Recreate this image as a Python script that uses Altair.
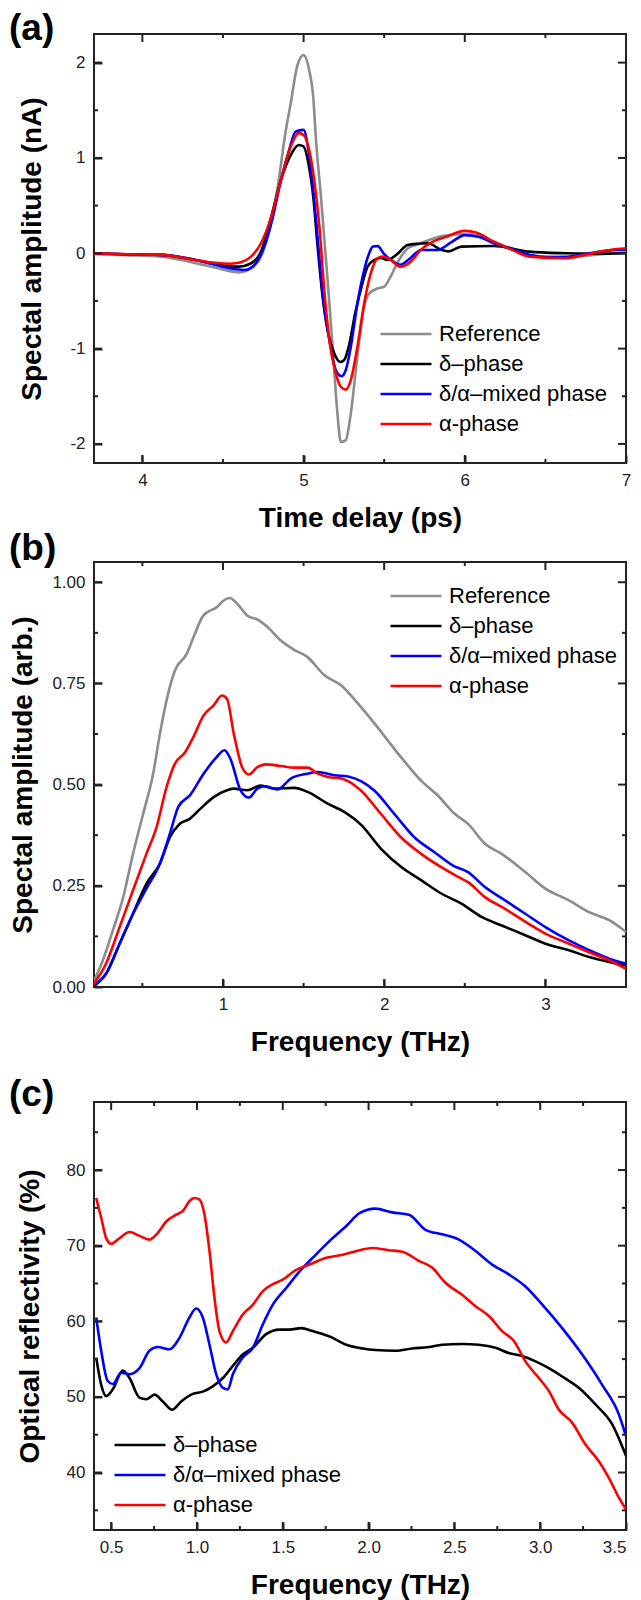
import altair as alt
import pandas as pd

FONT = "Liberation Sans"

# ---------------- Panel (a): time-domain waveforms ----------------
A_REF_T = [3.70, 3.90, 4.12, 4.33, 4.45, 4.55, 4.60, 4.674, 4.736, 4.788, 4.84, 4.89, 4.92, 4.96, 5.00, 5.035, 5.06, 5.077,
           5.108, 5.149, 5.18, 5.21, 5.231, 5.262, 5.293, 5.334, 5.376, 5.407, 5.458, 5.50, 5.54, 5.58, 5.645, 5.70, 5.78,
           5.86, 5.98, 6.07, 6.18, 6.30, 6.40, 6.55, 6.70, 6.85, 7.0]
A_REF_V = [-0.01, -0.02, -0.035, -0.105, -0.15, -0.19, -0.20, -0.16, -0.035, 0.245, 0.70, 1.29, 1.57, 1.96, 2.08, 1.92, 1.64,
           1.19, 0.59, -0.28, -0.98, -1.68, -1.98, -1.96, -1.68, -1.08, -0.56, -0.42, -0.37, -0.35, -0.245, -0.105, 0.05,
           0.09, 0.14, 0.18, 0.20, 0.19, 0.12, 0.04, -0.03, -0.04, -0.03, -0.01, 0.01]

A_D_T = [3.70, 3.90, 4.12, 4.33, 4.45, 4.55, 4.60, 4.67, 4.736, 4.80, 4.86, 4.92, 4.97, 5.00, 5.03, 5.06, 5.087, 5.118,
         5.149, 5.19, 5.227, 5.252, 5.28, 5.32, 5.365, 5.397, 5.44, 5.48, 5.52, 5.58, 5.645, 5.71, 5.77, 5.856, 5.90,
         5.98, 6.18, 6.40, 6.62, 6.80, 7.0]
A_D_V = [0.0, -0.01, -0.017, -0.07, -0.11, -0.14, -0.14, -0.11, 0.017, 0.385, 0.77, 1.03, 1.136, 1.12, 0.944, 0.594, 0.07,
         -0.455, -0.81, -1.05, -1.14, -1.12, -0.98, -0.63, -0.315, -0.14, -0.07, -0.05, -0.07, -0.01, 0.087, 0.10, 0.105,
         0.035, 0.02, 0.07, 0.077, 0.017, 0.0, -0.005, 0.0]

A_M_T = [3.70, 3.90, 4.12, 4.33, 4.45, 4.55, 4.63, 4.69, 4.756, 4.81, 4.86, 4.91, 4.95, 5.00, 5.03, 5.06, 5.09, 5.118,
         5.16, 5.20, 5.235, 5.262, 5.293, 5.334, 5.376, 5.407, 5.43, 5.46, 5.50, 5.56, 5.60, 5.65, 5.73, 5.83, 5.92, 6.0,
         6.09, 6.18, 6.30, 6.40, 6.51, 6.62, 6.77, 6.9, 7.0]
A_M_V = [0.0, -0.01, -0.017, -0.07, -0.12, -0.16, -0.175, -0.13, 0.07, 0.385, 0.77, 1.08, 1.276, 1.294, 1.08, 0.664, 0.105,
         -0.42, -0.91, -1.225, -1.29, -1.225, -0.98, -0.525, -0.175, 0.0, 0.07, 0.075, -0.01, -0.09, -0.12, -0.07, 0.035,
         0.035, 0.12, 0.19, 0.17, 0.105, 0.04, -0.017, -0.04, -0.04, 0.0, 0.03, 0.04]

A_A_T = [3.70, 3.90, 4.12, 4.33, 4.45, 4.55, 4.61, 4.674, 4.736, 4.80, 4.86, 4.92, 4.97, 5.00, 5.035, 5.066, 5.10, 5.128,
         5.16, 5.20, 5.231, 5.262, 5.293, 5.334, 5.376, 5.417, 5.458, 5.49, 5.54, 5.60, 5.665, 5.727, 5.80, 5.88, 6.0,
         6.07, 6.18, 6.30, 6.40, 6.62, 6.77, 6.9, 7.0]
A_A_V = [0.0, -0.01, -0.017, -0.07, -0.10, -0.11, -0.095, -0.035, 0.105, 0.385, 0.77, 1.12, 1.26, 1.24, 1.08, 0.77, 0.245,
         -0.385, -0.91, -1.26, -1.40, -1.43, -1.33, -0.98, -0.525, -0.21, -0.053, -0.035, -0.07, -0.14, -0.088, 0.035,
         0.12, 0.17, 0.235, 0.217, 0.122, 0.03, -0.035, -0.052, -0.007, 0.035, 0.052]

# ---------------- Panel (b): spectral amplitude ----------------
B_REF_F = [0.192, 0.255, 0.317, 0.38, 0.442, 0.505, 0.567, 0.609, 0.65, 0.702, 0.775, 0.817, 0.879, 0.963, 1.004, 1.042,
           1.088, 1.15, 1.223, 1.275, 1.359, 1.442, 1.525, 1.63, 1.734, 1.838, 1.942, 2.104, 2.229, 2.333, 2.437, 2.52,
           2.625, 2.729, 2.875, 3.0, 3.146, 3.271, 3.396, 3.5]
B_REF_A = [0.008, 0.066, 0.14, 0.22, 0.329, 0.428, 0.527, 0.626, 0.708, 0.782, 0.823, 0.864, 0.918, 0.939, 0.955, 0.961,
           0.947, 0.918, 0.906, 0.89, 0.856, 0.833, 0.815, 0.77, 0.745, 0.70, 0.65, 0.568, 0.51, 0.473, 0.428, 0.403,
           0.354, 0.329, 0.284, 0.243, 0.214, 0.185, 0.165, 0.136]

B_D_F = [0.192, 0.275, 0.359, 0.442, 0.525, 0.609, 0.671, 0.734, 0.796, 0.859, 0.942, 1.025, 1.067, 1.15, 1.234, 1.317,
         1.442, 1.525, 1.65, 1.755, 1.859, 1.979, 2.104, 2.229, 2.354, 2.479, 2.604, 2.729, 2.875, 3.0, 3.146, 3.271,
         3.396, 3.5]
B_D_A = [0.0, 0.033, 0.107, 0.181, 0.255, 0.305, 0.37, 0.404, 0.416, 0.44, 0.469, 0.486, 0.49, 0.486, 0.498, 0.49, 0.492,
         0.482, 0.453, 0.432, 0.40, 0.342, 0.297, 0.264, 0.231, 0.206, 0.173, 0.152, 0.128, 0.107, 0.091, 0.074, 0.062,
         0.054]

B_M_F = [0.192, 0.275, 0.359, 0.442, 0.525, 0.609, 0.671, 0.723, 0.796, 0.88, 0.952, 1.009, 1.046, 1.109, 1.161, 1.213,
         1.265, 1.338, 1.421, 1.525, 1.588, 1.692, 1.775, 1.859, 1.937, 2.062, 2.187, 2.312, 2.427, 2.52, 2.625, 2.75,
         2.875, 3.0, 3.146, 3.271, 3.396, 3.5]
B_M_A = [0.004, 0.033, 0.107, 0.181, 0.243, 0.305, 0.379, 0.445, 0.474, 0.527, 0.564, 0.585, 0.564, 0.486, 0.468, 0.49,
         0.496, 0.488, 0.515, 0.527, 0.531, 0.523, 0.52, 0.508, 0.486, 0.428, 0.37, 0.333, 0.30, 0.284, 0.247, 0.214,
         0.181, 0.148, 0.115, 0.091, 0.07, 0.058]

B_A_F = [0.192, 0.275, 0.359, 0.442, 0.525, 0.588, 0.65, 0.702, 0.765, 0.817, 0.88, 0.942, 0.994, 1.025, 1.067, 1.119,
         1.161, 1.213, 1.265, 1.359, 1.442, 1.525, 1.588, 1.65, 1.734, 1.817, 1.854, 1.979, 2.104, 2.229, 2.354, 2.458,
         2.52, 2.625, 2.75, 2.896, 3.0, 3.146, 3.271, 3.396, 3.5]
B_A_A = [0.004, 0.058, 0.148, 0.239, 0.329, 0.395, 0.494, 0.552, 0.58, 0.618, 0.671, 0.696, 0.72, 0.712, 0.626, 0.543,
         0.525, 0.543, 0.55, 0.546, 0.542, 0.542, 0.527, 0.519, 0.515, 0.498, 0.486, 0.428, 0.37, 0.329, 0.296, 0.272,
         0.259, 0.222, 0.193, 0.156, 0.132, 0.107, 0.086, 0.066, 0.045]

# ---------------- Panel (c): optical reflectivity ----------------
C_D_F = [0.413, 0.442, 0.471, 0.51, 0.568, 0.607, 0.665, 0.704, 0.753, 0.801, 0.855, 0.908, 0.976, 1.034, 1.092, 1.151,
         1.209, 1.267, 1.326, 1.403, 1.481, 1.539, 1.607, 1.675, 1.772, 1.87, 1.967, 2.04, 2.157, 2.254, 2.351, 2.429,
         2.545, 2.642, 2.74, 2.817, 2.895, 2.973, 3.05, 3.128, 3.225, 3.322, 3.419, 3.5]
C_D_R = [55.2, 51.6, 50.1, 51.0, 53.5, 52.5, 49.9, 49.7, 50.3, 49.4, 48.3, 49.4, 50.4, 50.7, 51.4, 52.5, 54.1, 55.6, 56.5,
         58.3, 58.9, 58.9, 59.1, 58.7, 58.0, 56.9, 56.4, 56.2, 56.1, 56.4, 56.6, 56.9, 57.0, 56.9, 56.5, 55.8, 55.4, 54.7,
         53.8, 52.7, 51.2, 49.0, 46.4, 42.2]

C_M_F = [0.413, 0.442, 0.48, 0.51, 0.558, 0.607, 0.665, 0.723, 0.772, 0.84, 0.898, 0.956, 0.995, 1.034, 1.073, 1.112,
         1.151, 1.18, 1.209, 1.267, 1.326, 1.384, 1.442, 1.52, 1.598, 1.675, 1.772, 1.87, 1.947, 2.04, 2.137, 2.235,
         2.332, 2.429, 2.526, 2.623, 2.72, 2.817, 2.914, 3.012, 3.128, 3.245, 3.361, 3.458, 3.5]
C_M_R = [60.5, 56.1, 52.1, 51.7, 53.2, 53.0, 53.8, 56.1, 56.6, 56.3, 57.8, 60.5, 61.7, 60.5, 56.9, 53.0, 51.2, 51.0, 53.0,
         55.2, 56.5, 59.6, 62.2, 64.4, 66.6, 68.4, 70.6, 72.6, 74.3, 74.9, 74.4, 74.1, 72.1, 71.5, 70.8, 69.3, 67.5, 66.2,
         64.6, 62.2, 59.1, 55.6, 51.6, 47.7, 44.8]

C_A_F = [0.413, 0.442, 0.471, 0.5, 0.549, 0.607, 0.665, 0.723, 0.772, 0.821, 0.879, 0.918, 0.956, 0.986, 1.015, 1.044,
         1.073, 1.102, 1.131, 1.17, 1.209, 1.267, 1.326, 1.384, 1.442, 1.5, 1.578, 1.656, 1.753, 1.85, 1.947, 2.021,
         2.118, 2.196, 2.293, 2.37, 2.448, 2.545, 2.623, 2.701, 2.778, 2.847, 2.914, 2.992, 3.05, 3.109, 3.186, 3.264,
         3.342, 3.4, 3.458, 3.5]
C_A_R = [76.3, 73.7, 71.0, 70.25, 71.0, 71.8, 71.3, 70.8, 71.7, 73.2, 74.1, 74.6, 75.9, 76.3, 76.1, 74.1, 69.3, 63.1,
         58.7, 57.2, 58.7, 60.9, 62.2, 64.0, 64.9, 65.5, 66.8, 67.5, 68.4, 68.8, 69.4, 69.7, 69.4, 69.2, 68.0, 67.1, 65.1,
         63.5, 62.0, 60.7, 58.7, 57.4, 54.7, 52.5, 50.8, 48.3, 46.6, 43.7, 41.5, 39.3, 36.7, 35.1]

SERIES = ["Reference", "δ–phase", "δ/α–mixed phase", "α-phase"]
COLORS = ["#8c8c8c", "#000000", "#0000ff", "#ff0000"]

# tick values: major (labelled) and minor
A_X_MAJ = [4, 5, 6, 7]
A_X_MIN = [4.5, 5.5, 6.5]
A_Y_MAJ = [-2, -1, 0, 1, 2]
A_Y_MIN = [-1.5, -0.5, 0.5, 1.5]
B_X_MAJ = [1, 2, 3]
B_X_MIN = [0.5, 1.5, 2.5]
B_Y_MAJ = [0.0, 0.25, 0.5, 0.75, 1.0]
B_Y_MIN = [0.125, 0.375, 0.625, 0.875]
C_X_MAJ = [0.5, 1.0, 1.5, 2.0, 2.5, 3.0, 3.5]
C_X_MIN = [0.75, 1.25, 1.75, 2.25, 2.75, 3.25]
C_Y_MAJ = [40, 50, 60, 70, 80]
C_Y_MIN = [35, 45, 55, 65, 75, 85]

MAJ = 8
MIN = 4
W = 532
TICK_COLOR = "#222222"


def long_df(pairs):
    rows = []
    for name, xs, ys in pairs:
        for x, y in zip(xs, ys):
            rows.append({"series": name, "x": x, "y": y})
    return pd.DataFrame(rows)


def label_axis(orient, values, lab_expr, title, title_pad, align_last=False):
    kw = dict(orient=orient, values=values, offset=-MAJ, tickSize=MAJ, domain=False, grid=False,
              tickColor=TICK_COLOR, tickWidth=2,
              labelExpr=lab_expr, labelFont=FONT, labelFontSize=17, labelColor="#222222",
              labelPadding=9, labelFlush=False, labelOverlap=False,
              title=title, titleFont=FONT, titleFontSize=28, titleFontWeight="bold",
              titleColor="black", titlePadding=title_pad)
    if align_last:
        kw["labelAlign"] = {"condition": {"test": "datum.value >= 3.49", "value": "right"}, "value": "center"}
    return alt.Axis(**kw)


def tick_layers(xs, ys, xmaj, xmin, ymaj, ymin, h):
    out = []
    for vals, ln in [(xmaj, MAJ), (xmin, MIN)]:
        base = alt.Chart(pd.DataFrame({"v": vals})).mark_rule(color=TICK_COLOR, strokeWidth=2)
        xe = alt.X("v:Q", scale=xs, axis=None)
        out.append(base.encode(x=xe, y=alt.value(h), y2=alt.value(h - ln)))
        out.append(base.encode(x=xe, y=alt.value(0), y2=alt.value(ln)))
    for vals, ln in [(ymaj, MAJ), (ymin, MIN)]:
        base = alt.Chart(pd.DataFrame({"v": vals})).mark_rule(color=TICK_COLOR, strokeWidth=2)
        ye = alt.Y("v:Q", scale=ys, axis=None)
        out.append(base.encode(y=ye, x=alt.value(0), x2=alt.value(ln)))
        out.append(base.encode(y=ye, x=alt.value(W), x2=alt.value(W - ln)))
    return out


def panel(df, names, colors, xdom, ydom, xmaj, xmin, ymaj, ymin, xfmt, yfmt, xtitle, ytitle,
          ytitle_pad, leg_x, leg_y, label, label_offset, h, align_last=False):
    xs = alt.Scale(domain=xdom, nice=False, zero=False)
    ys = alt.Scale(domain=ydom, nice=False, zero=False)
    lines = alt.Chart(df).mark_line(strokeWidth=2.6, interpolate="monotone", clip=True).encode(
        x=alt.X("x:Q", scale=xs, axis=label_axis("bottom", xmaj, xfmt, xtitle, 16, align_last)),
        y=alt.Y("y:Q", scale=ys, axis=label_axis("left", ymaj, yfmt, ytitle, ytitle_pad)),
        color=alt.Color("series:N", scale=alt.Scale(domain=names, range=colors),
                        legend=alt.Legend(orient="none", legendX=leg_x, legendY=leg_y, title=None,
                                          symbolType="stroke", symbolSize=2601, symbolStrokeWidth=2.6,
                                          labelFont=FONT, labelFontSize=22, labelColor="black",
                                          clipHeight=30, rowPadding=0, padding=0, labelOffset=6,
                                          labelLimit=400)),
    )
    layers = [lines] + tick_layers(xs, ys, xmaj, xmin, ymaj, ymin, h)
    return alt.layer(*layers).resolve_axis(x="independent", y="independent").properties(
        width=W, height=h,
        title=alt.TitleParams(text=label, anchor="start", frame="group", dx=-85, offset=label_offset,
                              fontSize=37, fontWeight="bold", font=FONT, color="black"),
    )


dfa = long_df([(SERIES[0], A_REF_T, A_REF_V), (SERIES[1], A_D_T, A_D_V),
               (SERIES[2], A_M_T, A_M_V), (SERIES[3], A_A_T, A_A_V)])
dfb = long_df([(SERIES[0], B_REF_F, B_REF_A), (SERIES[1], B_D_F, B_D_A),
               (SERIES[2], B_M_F, B_M_A), (SERIES[3], B_A_F, B_A_A)])
dfc = long_df([(SERIES[1], C_D_F, C_D_R), (SERIES[2], C_M_F, C_M_R), (SERIES[3], C_A_F, C_A_R)])

pa = panel(dfa, SERIES, COLORS, [3.7, 7.0], [-2.2, 2.3], A_X_MAJ, A_X_MIN, A_Y_MAJ, A_Y_MIN,
           "toString(datum.value)", "toString(datum.value)", "Time delay (ps)", "Spectal amplitude (nA)",
           23, 285, 285, "(a)", -15, 429)
pb = panel(dfb, SERIES, COLORS, [0.2, 3.5], [0.0, 1.05], B_X_MAJ, B_X_MIN, B_Y_MAJ, B_Y_MIN,
           "toString(datum.value)", "format(datum.value, '.2f')", "Frequency (THz)", "Spectal amplitude (arb.)",
           14, 295, 19, "(b)", -7, 425)
pc = panel(dfc, SERIES[1:], COLORS[1:], [0.4, 3.5], [32.4, 89.0], C_X_MAJ, C_X_MIN, C_Y_MAJ, C_Y_MIN,
           "format(datum.value, '.1f')", "toString(datum.value)", "Frequency (THz)", "Optical reflectivity (%)",
           22, 19, 328, "(c)", -13, 428, align_last=True)

chart = alt.vconcat(
    alt.vconcat(pa, pb, spacing=-4).resolve_scale(color="independent").resolve_legend(color="independent"),
    pc, spacing=18,
).resolve_scale(color="independent").resolve_legend(color="independent").properties(
    padding={"left": 0, "top": 1, "right": 0, "bottom": 0}
).configure_view(stroke="#222222", strokeWidth=2)

chart.save("out.html", embed_options={"renderer": "svg", "actions": False})
